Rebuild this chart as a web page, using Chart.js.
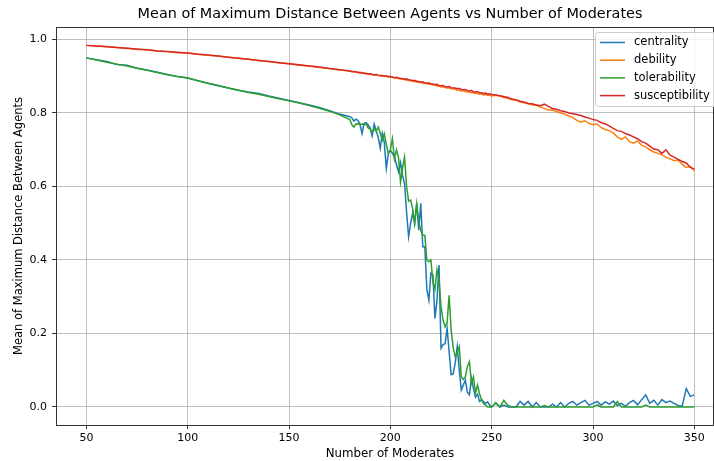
<!DOCTYPE html>
<html>
<head>
<meta charset="utf-8">
<script src="https://cdn.jsdelivr.net/npm/chart.js@4"></script>
<style>
  html, body { margin: 0; padding: 0; background: #fff; }
  canvas { display: block; }
</style>
</head>
<body>
<canvas id="moderates-chart" width="714" height="461"></canvas>
<script>
// series
const moderates = [
    50, 55, 60, 65, 70, 75, 80, 85, 90, 95, 100, 105, 110, 115, 120, 125, 130, 135, 140, 145, 150, 155, 160, 165, 170, 175, 180,
    181, 182, 183, 184, 185, 186, 187, 188, 189, 190, 191, 192, 193, 194, 195, 196, 197, 198, 199, 200,
    201, 202, 203, 204, 205, 206, 207, 208, 209, 210, 211, 212, 213, 214, 215, 216, 217, 218, 219, 220,
    221, 222, 223, 224, 225, 226, 227, 228, 229, 230, 231, 232, 233, 234, 235, 236, 237, 238, 239, 240,
    241, 242, 243, 244, 245, 246, 247, 248, 249, 250,
    252, 254, 256, 258, 260, 262, 264, 266, 268, 270, 272, 274, 276, 278, 280, 282, 284, 286, 288, 290,
    292, 294, 296, 298, 300, 302, 304, 306, 308, 310, 312, 314, 316, 318, 320, 322, 324, 326, 328, 330,
    332, 334, 336, 338, 340, 342, 344, 346, 348, 350
];

const centrality = [
    0.950, 0.945, 0.940, 0.932, 0.930, 0.922, 0.917, 0.911, 0.905, 0.899, 0.895, 0.888, 0.881, 0.875, 0.868, 0.862, 0.857, 0.853, 0.846, 0.840, 0.834, 0.828, 0.822, 0.815, 0.806, 0.797, 0.790,
    0.787, 0.778, 0.783, 0.780, 0.770, 0.744, 0.772, 0.774, 0.768, 0.760,
    0.738, 0.770, 0.752, 0.734, 0.704, 0.745, 0.720, 0.649, 0.690, 0.699,
    0.690, 0.680, 0.660, 0.640, 0.665, 0.630, 0.608, 0.530, 0.463, 0.500,
    0.527, 0.500, 0.554, 0.481, 0.554, 0.436, 0.436, 0.320, 0.291, 0.364,
    0.360, 0.241, 0.290, 0.386, 0.160, 0.170, 0.172, 0.214, 0.150, 0.088,
    0.090, 0.120, 0.164, 0.100, 0.046, 0.060, 0.073, 0.040, 0.033, 0.077,
    0.050, 0.027, 0.035, 0.015, 0.020, 0.014, 0.010, 0.014, 0.005, 0.000,
    0.010, 0.000, 0.005, 0.000, 0.000, 0.000, 0.015, 0.005, 0.015, 0.000,
    0.012, 0.000, 0.000, 0.000, 0.008, 0.000, 0.012, 0.000, 0.010, 0.015,
    0.005, 0.012, 0.018, 0.005, 0.010, 0.015, 0.005, 0.014, 0.008, 0.016,
    0.004, 0.010, 0.002, 0.012, 0.018, 0.006, 0.020, 0.033, 0.010, 0.018,
    0.005, 0.020, 0.012, 0.016, 0.010, 0.004, 0.002, 0.050, 0.029, 0.033
];

const debility = [
    0.984, 0.982, 0.981, 0.978, 0.976, 0.973, 0.972, 0.969, 0.967, 0.964, 0.963, 0.960, 0.957, 0.955, 0.952, 0.949, 0.946, 0.943, 0.940, 0.937, 0.934, 0.930, 0.928, 0.924, 0.921, 0.917, 0.914,
    0.912, 0.913, 0.911, 0.910, 0.909, 0.910, 0.908, 0.906, 0.907, 0.905,
    0.905, 0.903, 0.904, 0.902, 0.901, 0.900, 0.901, 0.899, 0.898, 0.897,
    0.898, 0.895, 0.895, 0.893, 0.894, 0.891, 0.891, 0.889, 0.890, 0.887,
    0.887, 0.885, 0.886, 0.883, 0.883, 0.881, 0.880, 0.880, 0.878, 0.878,
    0.876, 0.876, 0.873, 0.874, 0.871, 0.871, 0.869, 0.868, 0.868, 0.866,
    0.865, 0.865, 0.862, 0.862, 0.860, 0.861, 0.858, 0.857, 0.857, 0.855,
    0.856, 0.853, 0.853, 0.851, 0.852, 0.849, 0.850, 0.848, 0.848, 0.846,
    0.848, 0.846, 0.842, 0.840, 0.836, 0.835, 0.830, 0.828, 0.825, 0.822,
    0.821, 0.816, 0.812, 0.808, 0.808, 0.804, 0.800, 0.797, 0.792, 0.788,
    0.780, 0.775, 0.779, 0.772, 0.768, 0.770, 0.760, 0.755, 0.752, 0.745,
    0.735, 0.728, 0.735, 0.722, 0.718, 0.724, 0.712, 0.708, 0.700, 0.694,
    0.690, 0.686, 0.680, 0.675, 0.670, 0.672, 0.660, 0.652, 0.655, 0.642
];

const tolerability = [
    0.950, 0.944, 0.938, 0.933, 0.928, 0.922, 0.916, 0.910, 0.904, 0.899, 0.895, 0.888, 0.881, 0.874, 0.868, 0.862, 0.856, 0.851, 0.845, 0.839, 0.833, 0.827, 0.820, 0.813, 0.805, 0.795, 0.782,
    0.768, 0.762, 0.770, 0.771, 0.768, 0.770, 0.769, 0.770, 0.760, 0.756,
    0.748, 0.757, 0.750, 0.762, 0.745, 0.726, 0.744, 0.715, 0.690, 0.700,
    0.730, 0.675, 0.700, 0.680, 0.612, 0.650, 0.680, 0.600, 0.560, 0.563,
    0.540, 0.500, 0.553, 0.505, 0.480, 0.467, 0.467, 0.400, 0.395, 0.400,
    0.340, 0.320, 0.373, 0.345, 0.273, 0.236, 0.218, 0.230, 0.304, 0.210,
    0.160, 0.137, 0.150, 0.164, 0.082, 0.075, 0.082, 0.110, 0.123, 0.065,
    0.082, 0.037, 0.060, 0.036, 0.020, 0.009, 0.005, 0.000, 0.000, 0.000,
    0.012, 0.000, 0.018, 0.004, 0.000, 0.000, 0.000, 0.000, 0.000, 0.000,
    0.000, 0.000, 0.004, 0.000, 0.000, 0.000, 0.000, 0.000, 0.000, 0.000,
    0.000, 0.000, 0.000, 0.000, 0.000, 0.006, 0.000, 0.000, 0.000, 0.000,
    0.015, 0.000, 0.000, 0.000, 0.000, 0.000, 0.000, 0.005, 0.000, 0.000,
    0.000, 0.000, 0.000, 0.000, 0.000, 0.000, 0.000, 0.000, 0.000, 0.000
];

const susceptibility = [
    0.984, 0.982, 0.980, 0.978, 0.976, 0.974, 0.972, 0.969, 0.967, 0.965, 0.963, 0.960, 0.958, 0.955, 0.952, 0.949, 0.946, 0.943, 0.940, 0.937, 0.934, 0.931, 0.928, 0.925, 0.921, 0.918, 0.914,
    0.913, 0.912, 0.912, 0.910, 0.911, 0.909, 0.908, 0.908, 0.906, 0.907,
    0.905, 0.904, 0.905, 0.903, 0.902, 0.902, 0.900, 0.901, 0.899, 0.899,
    0.898, 0.896, 0.897, 0.895, 0.894, 0.894, 0.892, 0.893, 0.890, 0.890,
    0.888, 0.889, 0.886, 0.886, 0.884, 0.885, 0.882, 0.881, 0.882, 0.879,
    0.879, 0.877, 0.878, 0.875, 0.874, 0.875, 0.872, 0.871, 0.872, 0.869,
    0.868, 0.868, 0.866, 0.867, 0.864, 0.863, 0.864, 0.861, 0.860, 0.861,
    0.858, 0.857, 0.858, 0.855, 0.855, 0.853, 0.854, 0.851, 0.852, 0.850,
    0.849, 0.847, 0.845, 0.842, 0.838, 0.836, 0.832, 0.830, 0.826, 0.825,
    0.822, 0.820, 0.824, 0.818, 0.812, 0.810, 0.806, 0.804, 0.800, 0.798,
    0.796, 0.793, 0.789, 0.786, 0.782, 0.780, 0.774, 0.770, 0.765, 0.758,
    0.752, 0.750, 0.744, 0.740, 0.735, 0.730, 0.722, 0.718, 0.710, 0.702,
    0.700, 0.690, 0.700, 0.685, 0.680, 0.674, 0.668, 0.664, 0.652, 0.648
];

const seriesNames = ['centrality', 'debility', 'tolerability', 'susceptibility'];
const seriesColors = ['#1f77b4', '#ff7f0e', '#2ca02c', '#d62728'];
const xTicks = [50, 100, 150, 200, 250, 300, 350];
const yTicks = [0.0, 0.2, 0.4, 0.6, 0.8, 1.0];

document.addEventListener('DOMContentLoaded', () => {
    const ctx = document.getElementById('moderates-chart').getContext('2d');
    const allSeries = [centrality, debility, tolerability, susceptibility];
    const chartTitle = 'Mean of Maximum Distance Between Agents vs Number of Moderates';
    const xLabel = 'Number of Moderates';

    Chart.defaults.font.family = "'DejaVu Sans', sans-serif";
    Chart.defaults.color = '#000';

    function toPoints(values) {
        return moderates.map((m, i) => ({ x: m, y: values[i] }));
    }

    // matplotlib draws later lines on top, chart.js wants a lower order for that
    const datasets = seriesNames.map((name, i) => ({
        label: name,
        data: toPoints(allSeries[i]),
        borderColor: seriesColors[i],
        backgroundColor: seriesColors[i],
        borderWidth: 1.5,
        pointRadius: 0,
        tension: 0,
        fill: false,
        order: seriesNames.length - i
    }));

    const framePlugin = {
        id: 'frame',
        afterDatasetsDraw(chart) {
            const { ctx, chartArea } = chart;
            ctx.save();
            ctx.strokeStyle = '#333';
            ctx.lineWidth = 1;
            ctx.beginPath();
            ctx.moveTo(chartArea.left, chartArea.top + 0.5);
            ctx.lineTo(chartArea.right, chartArea.top + 0.5);
            ctx.moveTo(chartArea.right - 0.5, chartArea.top);
            ctx.lineTo(chartArea.right - 0.5, chartArea.bottom);
            ctx.stroke();
            ctx.restore();
        }
    };

    // the original axes run past the right edge, so centre texts on x = 390
    const textsPlugin = {
        id: 'texts',
        afterDraw(chart) {
            const { ctx } = chart;
            ctx.save();
            ctx.fillStyle = '#000';
            ctx.textAlign = 'center';
            ctx.textBaseline = 'middle';
            ctx.font = "14.4px 'DejaVu Sans'";
            ctx.fillText(chartTitle, 390, 14);
            ctx.font = "11.8px 'DejaVu Sans'";
            ctx.fillText(xLabel, 390, 453.5);
            ctx.restore();
        }
    };

    const boxLegend = {
        id: 'boxLegend',
        afterDraw(chart) {
            const { ctx } = chart;
            const x = 595.5, y = 32.5, w = 125, h = 74;
            ctx.save();
            ctx.fillStyle = 'rgba(255,255,255,0.8)';
            ctx.strokeStyle = '#cccccc';
            ctx.lineWidth = 1;
            ctx.beginPath();
            ctx.roundRect(x, y, w, h, 3);
            ctx.fill();
            ctx.stroke();

            ctx.font = "11.5px 'DejaVu Sans'";
            ctx.textBaseline = 'middle';
            ctx.textAlign = 'left';
            seriesNames.forEach((name, i) => {
                const rowY = 42.5 + i * 17.7;
                ctx.strokeStyle = seriesColors[i];
                ctx.lineWidth = 1.5;
                ctx.beginPath();
                ctx.moveTo(600, rowY);
                ctx.lineTo(625, rowY);
                ctx.stroke();
                ctx.fillStyle = '#000';
                ctx.fillText(name, 634, rowY);
            });
            ctx.restore();
        }
    };

    new Chart(ctx, {
        type: 'line',
        data: { datasets: datasets },
        options: {
            responsive: false,
            animation: false,
            layout: { padding: { top: 27, left: 0, right: 0, bottom: 0 } },
            plugins: {
                legend: { display: false },
                tooltip: { enabled: false },
                title: { display: false }
            },
            scales: {
                x: {
                    type: 'linear',
                    min: 35,
                    max: 359.7,
                    afterBuildTicks: (scale) => {
                        scale.ticks = xTicks.map(v => ({ value: v }));
                    },
                    afterFit: (scale) => { scale.height = 36; },
                    ticks: {
                        font: { size: 11 },
                        padding: 3,
                        maxRotation: 0,
                        callback: (v) => String(v)
                    },
                    grid: { color: '#b0b0b0', lineWidth: 0.8, tickColor: '#000', tickLength: 4 },
                    border: { color: '#333', width: 1 }
                },
                y: {
                    min: -0.049,
                    max: 1.034,
                    afterBuildTicks: (scale) => {
                        scale.ticks = yTicks.map(v => ({ value: v }));
                    },
                    afterFit: (scale) => { scale.width = 56; },
                    ticks: {
                        font: { size: 11 },
                        padding: 5,
                        callback: (v) => v.toFixed(1)
                    },
                    grid: { color: '#b0b0b0', lineWidth: 0.8, tickColor: '#000', tickLength: 4 },
                    border: { color: '#333', width: 1 },
                    title: {
                        display: true,
                        text: 'Mean of Maximum Distance Between Agents',
                        font: { size: 11.5 },
                        padding: { top: 12, bottom: 0 }
                    }
                }
            }
        },
        plugins: [framePlugin, textsPlugin, boxLegend]
    });
});
</script>
</body>
</html>
